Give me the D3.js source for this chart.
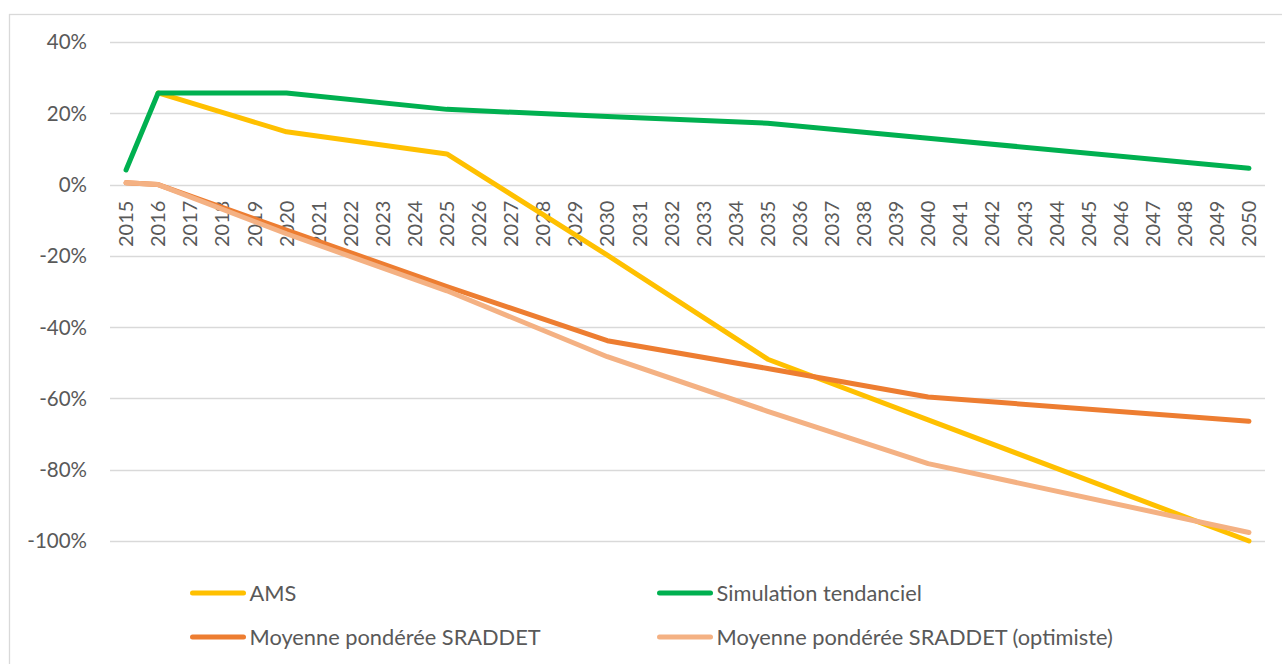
<!DOCTYPE html>
<html>
<head>
<meta charset="utf-8">
<script src="https://cdn.jsdelivr.net/npm/d3@7"></script>
<style>
  html, body { margin: 0; padding: 0; background: #fff; }
  svg { display: block; font-family: Lato, "Open Sans", sans-serif; }
</style>
</head>
<body>
<div id="chart"></div>
<script>
// categories on the x axis
var years = [2015, 2016, 2017, 2018, 2019, 2020, 2021, 2022, 2023, 2024, 2025, 2026,
  2027, 2028, 2029, 2030, 2031, 2032, 2033, 2034, 2035, 2036, 2037, 2038,
  2039, 2040, 2041, 2042, 2043, 2044, 2045, 2046, 2047, 2048, 2049, 2050];
// years for which the series have a value (others are skipped, line joins points)
var pointYears = [2015, 2016, 2020, 2025, 2030, 2035, 2040, 2050];
// values in %
var ams = [null, 25.7, 14.8, 8.6, -19.8, -49.0, -66.0, -100];
var tendanciel = [4.1, 25.7, 25.7, 21.1, 19.1, 17.2, 13.0, 4.6];
var sraddet = [0.5, 0, -12.8, -28.6, -43.8, -51.6, -59.6, -66.4];
var sraddetOpt = [0.5, 0, -13.8, -29.8, -48.3, -63.6, -78.3, -97.6];
var yTicks = [40, 20, 0, -20, -40, -60, -80, -100];

var seriesNames = ['AMS', 'Simulation tendanciel', 'Moyenne pondérée SRADDET', 'Moyenne pondérée SRADDET (optimiste)'];
var seriesValues = [ams, tendanciel, sraddet, sraddetOpt];
var colors = ['#FFC000', '#00B050', '#ED7D31', '#F4B183'];

var width = 1282, height = 664;

var svg = d3.select('#chart').append('svg')
  .attr('width', width)
  .attr('height', height);

// chart area border
svg.append('rect')
  .attr('x', 9.5).attr('y', 14.5)
  .attr('width', 1300).attr('height', 700)
  .attr('fill', 'none')
  .attr('stroke', '#d9d9d9')
  .attr('stroke-width', 1.3);

var x = d3.scaleBand()
  .domain(years)
  .range([110, 1265]);

var y = d3.scaleLinear()
  .domain([-100, 40])
  .range([541, 42]);

// gridlines
svg.append('g')
  .selectAll('line')
  .data(yTicks)
  .enter()
  .append('line')
  .attr('x1', 110).attr('x2', 1265)
  .attr('y1', function(d) { return Math.round(y(d)) + 0.5; })
  .attr('y2', function(d) { return Math.round(y(d)) + 0.5; })
  .attr('stroke', '#d9d9d9')
  .attr('stroke-width', 1.4);

// y labels
svg.append('g')
  .selectAll('text')
  .data(yTicks)
  .enter()
  .append('text')
  .attr('x', 87)
  .attr('y', function(d) { return y(d); })
  .attr('dy', '0.36em')
  .attr('text-anchor', 'end')
  .attr('fill', '#595959')
  .style('font-size', '20.5px')
  .text(function(d) { return d + '%'; });

// x labels, rotated
svg.append('g')
  .selectAll('text')
  .data(years)
  .enter()
  .append('text')
  .attr('transform', function(d) {
    return 'translate(' + (x(d) + x.bandwidth() / 2) + ',247) rotate(-90)';
  })
  .attr('dy', '0.36em')
  .attr('text-anchor', 'start')
  .attr('fill', '#595959')
  .style('font-size', '20px')
  .text(function(d) { return d; });

var line = d3.line()
  .x(function(d) { return x(d.year) + x.bandwidth() / 2; })
  .y(function(d) { return y(d.value); });

seriesValues.forEach(function(vals, i) {
  var pts = pointYears.map(function(yr, j) { return { year: yr, value: vals[j] }; })
    .filter(function(p) { return p.value !== null; });
  svg.append('path')
    .datum(pts)
    .attr('d', line)
    .attr('fill', 'none')
    .attr('stroke', colors[i])
    .attr('stroke-width', 5)
    .attr('stroke-linejoin', 'round')
    .attr('stroke-linecap', 'round');
});

// legend
var legendPos = [[192.5, 593], [659.5, 593], [192.5, 637], [659.5, 637]];
var legend = svg.append('g')
  .selectAll('g')
  .data(seriesNames)
  .enter()
  .append('g')
  .attr('transform', function(d, i) { return 'translate(' + legendPos[i][0] + ',' + legendPos[i][1] + ')'; });
legend.append('line')
  .attr('x1', 0).attr('x2', 51)
  .attr('y1', 0).attr('y2', 0)
  .attr('stroke', function(d, i) { return colors[i]; })
  .attr('stroke-width', 5)
  .attr('stroke-linecap', 'round');
legend.append('text')
  .attr('x', 57)
  .attr('y', 0)
  .attr('dy', '0.36em')
  .attr('fill', '#595959')
  .style('font-size', '21.8px')
  .text(function(d) { return d; });
</script>
</body>
</html>
